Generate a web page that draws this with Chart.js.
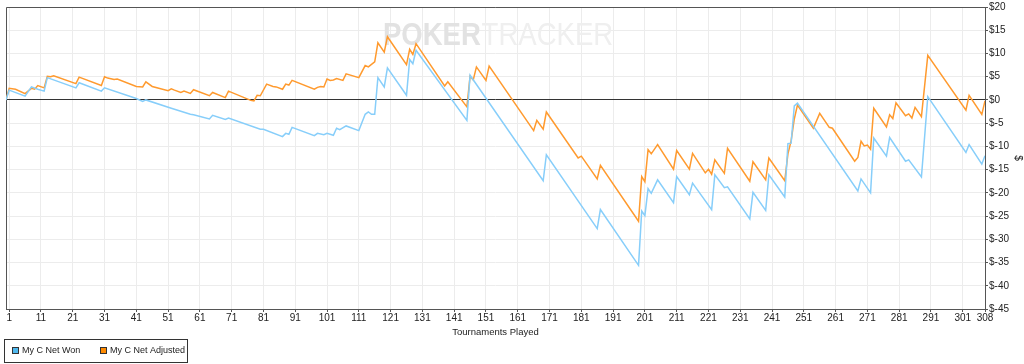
<!DOCTYPE html>
<html>
<head>
<meta charset="utf-8">
<script src="https://cdn.jsdelivr.net/npm/chart.js@4"></script>
<style>
  html, body { margin: 0; padding: 0; background: #fff; }
</style>
</head>
<body>
<canvas id="pnlChart" width="1024" height="364"></canvas>
<script>
// tournament number where the running total changes direction, and the total there ($)
const wonTournaments = [
  0, 1, 6, 8, 10, 12, 13, 22, 23, 30,
  31, 41, 43, 44, 52, 58, 59, 64, 65, 69,
  70, 80, 81, 87, 88, 89, 90, 97, 98, 100,
  101, 103, 104, 105, 107, 111, 113, 114, 115, 116,
  117, 119, 120, 126, 127, 128, 129, 145, 146, 169,
  170, 186, 187, 199, 200, 201, 202, 203, 205, 210,
  211, 215, 216, 222, 223, 226, 227, 234, 235, 239,
  240, 245, 246, 247, 248, 249, 268, 269, 272, 273,
  277, 278, 283, 284, 288, 290, 302, 303, 307, 308
];
const wonValues = [
  0, 2.1, 0.8, 2.8, 2.3, 1.9, 4.8, 2.6, 3.7, 1.9,
  2.6, 0.3, -0.3, 0, -1.8, -3.1, -3.2, -4.1, -3.3, -4.2,
  -3.9, -6.3, -6.3, -7.9, -7.2, -7.4, -5.9, -7.7, -7.2, -7.5,
  -7.2, -7.6, -6.1, -6.4, -5.6, -6.6, -3.1, -2.6, -3.1, -3.1,
  4.8, 2.8, 6.9, 1.0, 8.7, 7.8, 10.7, -4.4, 5.3, -17.4,
  -11.8, -27.7, -23.6, -35.6, -23.9, -24.9, -19.1, -20.1, -17.2, -22.1,
  -16.5, -20.4, -17.9, -23.6, -16.1, -18.9, -18.7, -25.6, -19.9, -23.8,
  -16.1, -20.9, -9.4, -9.3, -1.3, -0.7, -19.6, -17.0, -20.0, -8.2,
  -12.1, -8.1, -13.2, -12.9, -16.6, 0.7, -11.3, -9.6, -13.8, -12.0
];

const adjTournaments = [
  0, 1, 3, 6, 8, 9, 10, 12, 13, 14,
  15, 22, 23, 30, 31, 32, 34, 35, 41, 43,
  44, 46, 51, 52, 53, 55, 56, 58, 59, 64,
  65, 69, 70, 77, 78, 79, 80, 82, 84, 85,
  87, 88, 89, 90, 97, 98, 99, 100, 101, 102,
  103, 104, 106, 107, 111, 113, 114, 116, 117, 119,
  120, 126, 127, 128, 129, 138, 139, 145, 146, 147,
  148, 151, 152, 166, 167, 169, 170, 180, 181, 186,
  187, 199, 200, 201, 202, 203, 205, 210, 211, 215,
  216, 220, 221, 222, 223, 226, 227, 234, 235, 239,
  240, 245, 246, 247, 248, 249, 254, 256, 259, 260,
  267, 268, 269, 270, 271, 272, 273, 277, 278, 279,
  280, 283, 284, 285, 286, 288, 290, 302, 303, 307,
  308
];
const adjValues = [
  0, 2.5, 2.3, 1.35, 2.5, 2.3, 3.1, 2.6, 5.1, 5.0,
  5.2, 3.5, 4.9, 3.1, 5.0, 4.7, 4.4, 4.5, 2.9, 2.8,
  3.9, 2.9, 2.0, 2.4, 2.1, 1.6, 1.9, 1.4, 2.2, 0.9,
  1.6, 0.5, 1.9, -0.1, -0.2, 1.0, 0.9, 3.4, 2.9, 2.8,
  2.3, 3.4, 3.2, 4.2, 2.3, 2.7, 2.9, 2.8, 4.5, 4.2,
  4.3, 4.6, 4.2, 5.6, 4.8, 7.4, 7.1, 8.2, 12.3, 10.3,
  13.6, 7.6, 10.9, 9.8, 12.1, 3.0, 3.9, -1.5, 5.1, 4.3,
  7.1, 4.2, 7.3, -6.6, -4.4, -6.3, -2.6, -12.5, -12.1, -17.0,
  -14.1, -26.1, -16.5, -17.6, -10.7, -11.6, -9.6, -14.9, -10.9, -14.9,
  -11.5, -15.7, -14.9, -16.0, -12.9, -15.8, -10.4, -17.5, -13.3, -17.2,
  -12.5, -17.4, -11.6, -8.8, -4.1, -1.1, -6.1, -2.9, -5.9, -6.1,
  -13.2, -12.4, -8.9, -9.9, -9.7, -10.6, -1.8, -5.8, -3.2, -4.0,
  -0.6, -3.4, -3.0, -3.9, -1.6, -3.6, 9.6, -2.2, 1.0, -3.1,
  -0.2
];

const xTickValues = [1, 11, 21, 31, 41, 51, 61, 71, 81, 91, 101, 111, 121, 131, 141,
  151, 161, 171, 181, 191, 201, 211, 221, 231, 241, 251, 261, 271, 281, 291, 301, 308];
const yMin = -45, yMax = 20, yStep = 5;

const seriesNames = ['My C Net Won', 'My C Net Adjusted'];
const seriesColors = ['#87cefa', '#ff9a2e'];
const legendFill = ['#4fb8ee', '#ff8a00'];

const FONT = 'Arial, "Liberation Sans", sans-serif';

function toPoints(xs, ys) {
  return xs.map((t, i) => ({ x: t, y: ys[i] }));
}

// frame + watermark under the lines
const backdrop = {
  id: 'backdrop',
  beforeDatasetsDraw(chart) {
    const { ctx, chartArea: a } = chart;
    ctx.save();
    ctx.textBaseline = 'alphabetic';
    ctx.font = 'bold 32px ' + FONT;
    const w1 = ctx.measureText('POKER').width;
    ctx.font = '32px ' + FONT;
    const w2 = ctx.measureText('TRACKER').width;
    const sx = 0.86;
    const x0 = 498 - (w1 + w2 + 1) * sx / 2;
    ctx.translate(x0, 45);
    ctx.scale(sx, 1);
    ctx.font = 'bold 32px ' + FONT;
    ctx.fillStyle = '#e2e2e2';
    ctx.fillText('POKER', 0, 0);
    ctx.font = '32px ' + FONT;
    ctx.fillStyle = '#efefef';
    ctx.fillText('TRACKER', w1 + 1, 0);
    ctx.restore();

    ctx.save();
    ctx.strokeStyle = '#555';
    ctx.lineWidth = 1;
    ctx.beginPath();
    ctx.moveTo(Math.round(a.left) + 0.5, Math.round(a.bottom));
    ctx.lineTo(Math.round(a.left) + 0.5, Math.round(a.top) + 0.5);
    ctx.lineTo(Math.round(a.right), Math.round(a.top) + 0.5);
    ctx.stroke();
    ctx.restore();
  }
};

// boxed legend in the bottom-left corner
const boxLegend = {
  id: 'boxLegend',
  afterDraw(chart) {
    const ctx = chart.ctx;
    ctx.save();
    ctx.strokeStyle = '#333';
    ctx.lineWidth = 1;
    ctx.strokeRect(4.5, 339.5, 183, 23);
    ctx.font = '9px ' + FONT;
    ctx.textBaseline = 'middle';
    const starts = [12, 100];
    chart.data.datasets.forEach((ds, i) => {
      const x = starts[i];
      ctx.fillStyle = legendFill[i];
      ctx.fillRect(x, 347, 7, 7);
      ctx.strokeStyle = '#333';
      ctx.strokeRect(x + 0.5, 347.5, 6, 6);
      ctx.fillStyle = '#222';
      ctx.fillText(ds.label, x + 10, 351);
    });
    ctx.restore();
  }
};

new Chart(document.getElementById('pnlChart'), {
  type: 'line',
  data: {
    datasets: [
      {
        label: seriesNames[0],
        data: toPoints(wonTournaments, wonValues),
        borderColor: seriesColors[0],
        backgroundColor: seriesColors[0],
        borderWidth: 1.5,
        pointRadius: 0,
        tension: 0
      },
      {
        label: seriesNames[1],
        data: toPoints(adjTournaments, adjValues),
        borderColor: seriesColors[1],
        backgroundColor: seriesColors[1],
        borderWidth: 1.5,
        pointRadius: 0,
        tension: 0
      }
    ]
  },
  options: {
    responsive: false,
    animation: false,
    devicePixelRatio: 1,
    layout: { padding: { left: 6, top: 5, right: 0, bottom: 26 } },
    plugins: {
      legend: { display: false },
      tooltip: { enabled: false }
    },
    scales: {
      x: {
        type: 'linear',
        min: 0,
        max: 308,
        afterBuildTicks: (scale) => { scale.ticks = xTickValues.map(v => ({ value: v })); },
        afterFit: (scale) => { scale.height = 29; },
        ticks: {
          autoSkip: false,
          maxRotation: 0,
          padding: 0,
          color: '#222',
          font: { family: FONT, size: 10 },
          callback: (v) => v
        },
        grid: { color: '#ececec', tickColor: '#555', tickLength: 3, drawTicks: true },
        border: { color: '#555', width: 1 },
        title: {
          display: true,
          text: 'Tournaments Played',
          color: '#222',
          padding: 0,
          font: { family: FONT, size: 9.5 }
        }
      },
      y: {
        position: 'right',
        min: yMin,
        max: yMax,
        afterFit: (scale) => { scale.width = 39; },
        ticks: {
          stepSize: yStep,
          padding: 1,
          color: '#222',
          font: { family: FONT, size: 10 },
          callback: (v) => '$' + v
        },
        grid: {
          color: (c) => (c.tick && c.tick.value === 0 ? '#333' : '#ececec'),
          tickColor: '#555',
          tickLength: 3
        },
        border: { color: '#555', width: 1 },
        title: {
          display: true,
          text: '$',
          color: '#222',
          padding: 0,
          font: { family: FONT, size: 10 }
        }
      }
    }
  },
  plugins: [backdrop, boxLegend]
});
</script>
</body>
</html>
